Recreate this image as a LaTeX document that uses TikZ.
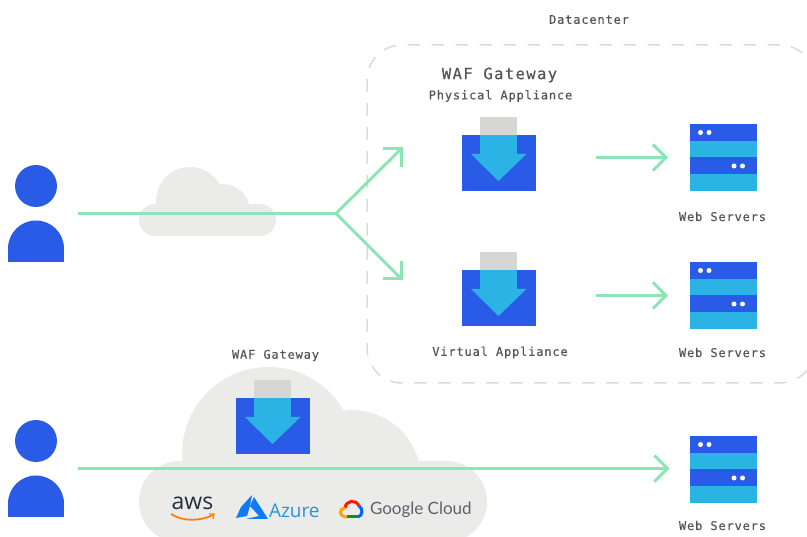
\documentclass[tikz,border=0pt]{standalone}
\usepackage{fontspec}
\usetikzlibrary{arrows.meta, positioning}
\newfontfamily\labelfont[LetterSpace=7, FakeBold=0.4]{DejaVu Sans Mono}
\newfontfamily\bigfont[LetterSpace=9, FakeBold=0.4]{DejaVu Sans Mono}
\newfontfamily\awsfont{Open Sans}
\newfontfamily\azurefont{Open Sans}
\newfontfamily\googlefont{Lato}
\definecolor{wafblue}{HTML}{2A5BE6}
\definecolor{waflight}{HTML}{2BB3E5}
\definecolor{wafgrey}{HTML}{D6D7D3}
\definecolor{wafgreen}{HTML}{8CE5B5}
\definecolor{cloudgrey}{HTML}{EBEBEA}
\definecolor{dashgrey}{HTML}{DADADA}
\definecolor{labelgrey}{HTML}{555555}
\tikzstyle{blank} = [rectangle, inner sep=0pt, outer sep=0pt]
\tikzstyle{gateway} = [blank, minimum width=74pt, minimum height=74pt, path picture={
    \begin{scope}[shift={(path picture bounding box.center)}]
      \fill [wafblue] (-37,-19) rectangle (37,37);
      \fill [wafgrey] (-19,-37) rectangle (18,-19);
      \fill [waflight] (-19,-19) rectangle (18,0);
      \fill [waflight] (-28,0) -- (27.5,0) -- (-0.5,27) -- cycle;
    \end{scope}}]
\tikzstyle{server} = [blank, minimum width=67pt, minimum height=67pt, path picture={
    \begin{scope}[shift={(path picture bounding box.center)}]
      \fill [wafblue] (-33.5,-33.5) rectangle (33.5,-16.5);
      \fill [waflight] (-33.5,-16.5) rectangle (33.5,-0.5);
      \fill [wafblue] (-33.5,-0.5) rectangle (33.5,16.5);
      \fill [waflight] (-33.5,16.5) rectangle (33.5,33.5);
      \fill [white] (-23,-25) circle (2.5) (-14.5,-25) circle (2.5);
      \fill [white] (10.5,8.5) circle (2.5) (19,8.5) circle (2.5);
    \end{scope}}]
\tikzstyle{person} = [blank, minimum width=56pt, minimum height=97pt, path picture={
    \begin{scope}[shift={(path picture bounding box.center)}]
      \fill [wafblue] (0,-27.5) circle (21);
      \fill [wafblue] (0,35) circle (28);
      \fill [wafblue] (-28,35) rectangle (28,48.5);
    \end{scope}}]
\tikzset{
  cloudbg/.style={blank, minimum width=137pt*#1, minimum height=69pt*#1, path picture={
    \begin{scope}[shift={(path picture bounding box.center)}]
      \fill [cloudgrey] (-52.5*#1,18.5*#1) circle (16*#1);
      \fill [cloudgrey] (52.5*#1,18.5*#1) circle (16*#1);
      \fill [cloudgrey] (-17.5*#1,-0.5*#1) circle (34*#1);
      \fill [cloudgrey] (15.5*#1,9.5*#1) circle (27*#1);
      \fill [cloudgrey] (-52.5*#1,2.5*#1) rectangle (52.5*#1,34.5*#1);
    \end{scope}}},
  wafline/.style={line width=3pt, wafgreen},
  wafarrow/.style={wafline, -{Straight Barb[length=13pt, width=26pt, line width=3pt]}},
  caption/.style={font=\labelfont\fontsize{12}{13}\selectfont, text=labelgrey, inner sep=0pt}
}
\begin{document}
\begin{tikzpicture}[x=1pt, y=-1pt]
    \useasboundingbox (0,0) rectangle (807,537);
    \clip (0,0) rectangle (807,537);

    \node (datacenter) [blank, draw=dashgrey, line width=1.5pt, dash pattern=on 12.5pt off 11.5pt,
        rounded corners=35pt, minimum width=448pt, minimum height=338pt, anchor=north west] at (367,45) {};

    \node (smallcloud) [cloudbg=1] at (207.5,201.5) {};
    \node (bigcloud) [cloudbg=2.54, anchor=north west] at (139,367) {};

    % people
    \node (usr1) [person] at (36,213.5) {};
    \node (usr2) [person, below=158pt of usr1] {};

    % gateways
    \node (gw1) [gateway] at (499,154) {};
    \node (gw2) [gateway, below=61pt of gw1] {};
    \node (gw3) [gateway] at (273,417) {};

    % servers
    \node (srv1) [server] at (723.5,157.5) {};
    \node (srv2) [server, below=71pt of srv1] {};
    \node (srv3) [server, below=107pt of srv2] {};

    % connectors
    \coordinate (fork) at (336,213.5);
    \coordinate (tipphys) at (403,147);
    \coordinate (tipvirt) at (403,280.5);
    \draw [wafline, shorten <=14pt] (usr1.east) -- (fork);
    \draw [wafarrow] (fork) -- (tipphys);
    \draw [wafarrow] (fork) -- (tipvirt);
    \draw [wafarrow, shorten <=60pt, shorten >=22pt] (srv1.west -| gw1.east) -- (srv1.west);
    \draw [wafarrow, shorten <=60pt, shorten >=22pt] (srv2.west -| gw2.east) -- (srv2.west);
    \draw [wafarrow, shorten <=14pt, shorten >=20.5pt] (usr2.east) -- (usr2.east -| srv3.west);

    % labels
    \node (dclabel) [caption] at (589,19.5) {Datacenter};
    \node (wafbig) [caption, font=\bigfont\fontsize{15.5}{16}\selectfont] at (499.5,75) {WAF Gateway};
    \node (physlabel) [caption] at (500.5,96) {Physical Appliance};
    \node (virtlabel) [caption] at (500,352.5) {Virtual Appliance};
    \node (wafsmall) [caption] at (275.5,355.5) {WAF Gateway};
    \node (web1) [caption] at (722.5,216.5) {Web Servers};
    \node (web2) [caption] at (722.5,352.5) {Web Servers};
    \node (web3) [caption] at (722.5,525.5) {Web Servers};

    % vendor logos
    \node (aws) [blank, font=\awsfont\fontsize{23}{23}\selectfont, text={rgb,255:red,37;green,47;blue,62}] at (192.5,503) {aws};
    \draw [orange, line width=1.8pt] (171,514) .. controls (183,522) and (201,521) .. (213,515);
    \draw [orange, line width=1.3pt] (209,514) -- (214,514) -- (213,519);
    \fill [waflight!50!blue!80!cyan] (252,495) -- (241,507) -- (236,518) -- (247,516) -- (250,506) -- cycle;
    \fill [waflight!50!blue!80!cyan] (254,497) -- (268,519) -- (246,519) -- (259,516) -- (250,506) -- cycle;
    \node (azure) [blank, font=\azurefont\fontsize{19}{19}\selectfont, text={rgb,255:red,45;green,145;blue,215}, anchor=west] at (269,510.5) {Azure};
    \draw [line width=3pt, red!80!orange] (345,508) .. controls (346,500) and (356,499) .. (359,506);
    \draw [line width=3pt, blue!60!cyan] (359,506) .. controls (363,508) and (363,516) .. (358,517);
    \draw [line width=3pt, green!60!black] (358,517) -- (347,517);
    \draw [line width=3pt, orange!70!yellow] (347,517) .. controls (338,517) and (339,508) .. (345,508);
    \node (google) [blank, font=\googlefont\fontsize{17}{17}\selectfont, text={rgb,255:red,95;green,99;blue,104}, anchor=west] at (370,510) {Google Cloud};
\end{tikzpicture}
\end{document}
